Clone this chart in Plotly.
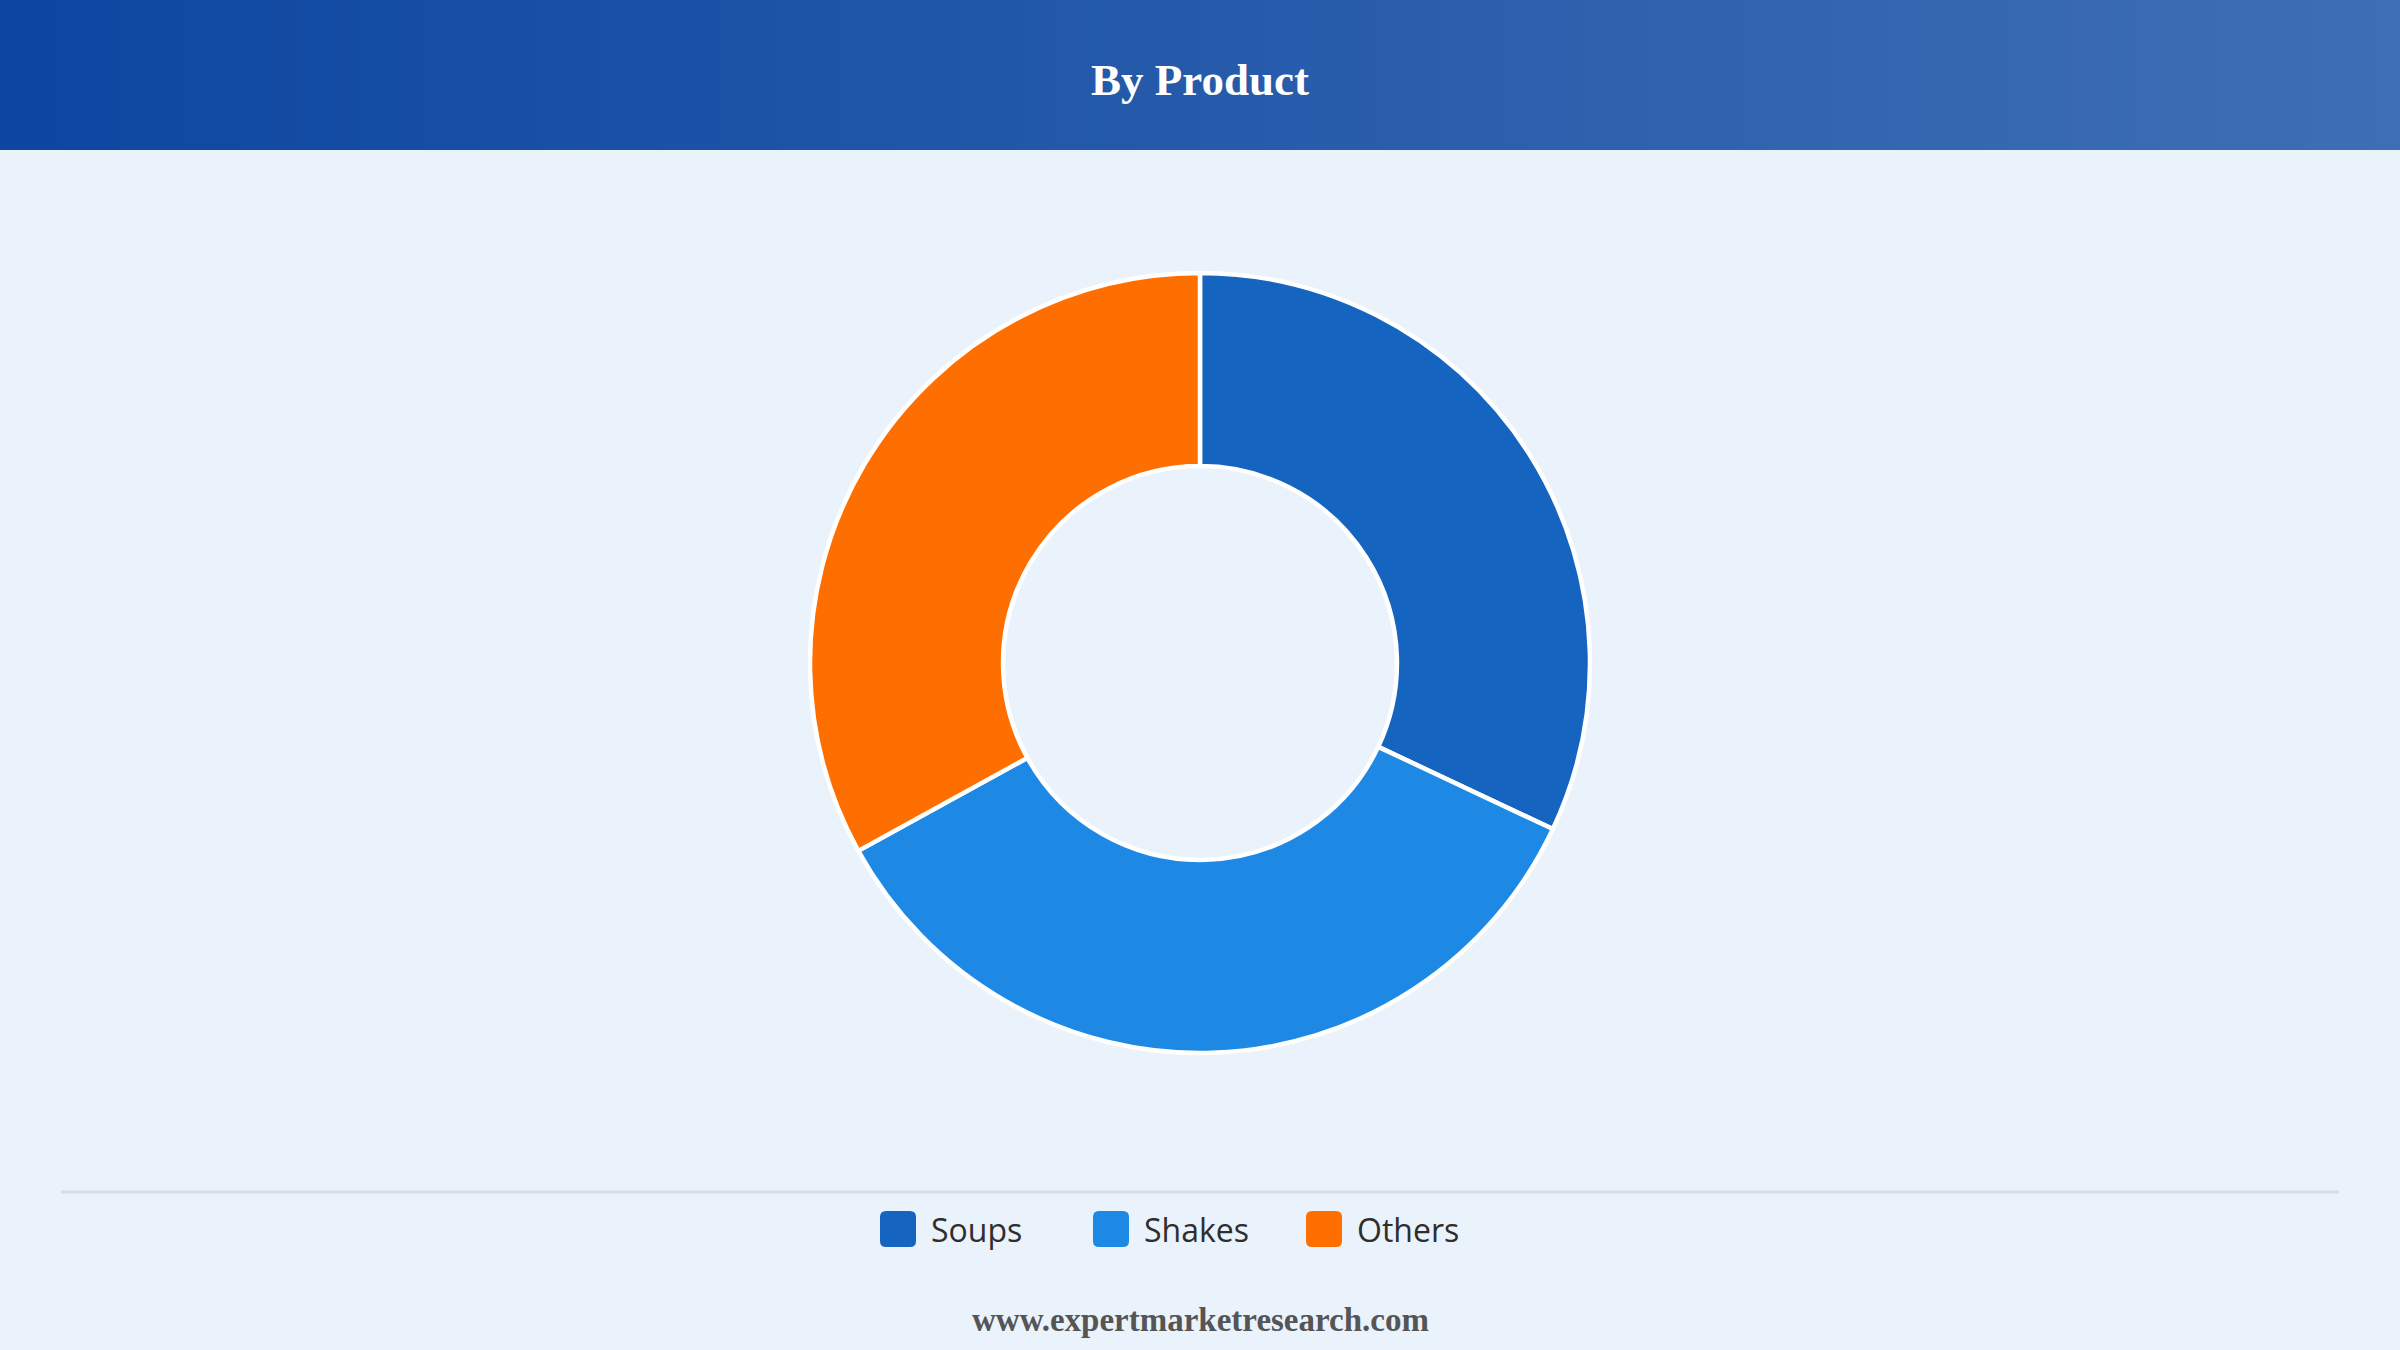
import plotly.graph_objects as go

# ===== データ =====
labels = ["Soups", "Shakes", "Others"]
shares = [32, 35, 33]
colors = ["#1565C0", "#1E88E5", "#FF6F00"]

title_text = "By Product"
source_text = "www.expertmarketresearch.com"

W, H = 2400, 1350
BG = "#EAF2FB"

fig = go.Figure()

fig.add_trace(go.Pie(
    labels=labels,
    values=shares,
    hole=0.505,
    sort=False,
    direction="clockwise",
    rotation=0,
    marker=dict(colors=colors, line=dict(color="white", width=4.5)),
    textinfo="none",
    hoverinfo="label+percent",
    showlegend=False,
    domain=dict(x=[0, 1], y=[(H - 1053) / H, (H - 273) / H]),
))

shapes = []

# ヘッダーのグラデーション（細い帯を並べる）
c0 = (13, 71, 161)
c1 = (62, 110, 181)
n = 80
for i in range(n):
    f = i / (n - 1)
    col = "rgb(%d,%d,%d)" % tuple(round(a + (b - a) * f) for a, b in zip(c0, c1))
    shapes.append(dict(
        type="rect", xref="paper", yref="paper",
        x0=i / n, x1=(i + 1) / n + 0.002,
        y0=1 - 150 / H, y1=1,
        fillcolor=col, line=dict(width=0), layer="below",
    ))

# 区切り線
shapes.append(dict(
    type="line", xref="paper", yref="paper",
    x0=61 / W, x1=2339 / W, y0=1 - 1192 / H, y1=1 - 1192 / H,
    line=dict(color="#D9DDE3", width=3),
))

annotations = [
    dict(text="<b>" + title_text + "</b>", x=0.5, y=1 - 80 / H,
         xref="paper", yref="paper", showarrow=False,
         xanchor="center", yanchor="middle",
         font=dict(family="Liberation Serif", size=45, color="white")),
    dict(text="<b>" + source_text + "</b>", x=0.5, y=1 - 1320 / H,
         xref="paper", yref="paper", showarrow=False,
         xanchor="center", yanchor="middle",
         font=dict(family="Liberation Serif", size=33, color="#555555")),
]

# 凡例（角丸の四角＋ラベル）
legend_x = [880, 1093, 1306]
ly = 1229
s = 36
r = 6
for lx, lab, col in zip(legend_x, labels, colors):
    x0, x1 = lx, lx + s
    y0, y1 = ly - s / 2, ly + s / 2
    path = (
        f"M{x0 + r},{y0} L{x1 - r},{y0} Q{x1},{y0} {x1},{y0 + r} "
        f"L{x1},{y1 - r} Q{x1},{y1} {x1 - r},{y1} L{x0 + r},{y1} "
        f"Q{x0},{y1} {x0},{y1 - r} L{x0},{y0 + r} Q{x0},{y0} {x0 + r},{y0} Z"
    )
    shapes.append(dict(type="path", xref="x", yref="y", path=path,
                       fillcolor=col, line=dict(width=0)))
    annotations.append(dict(
        text=lab, x=lx + s + 13, y=ly, xref="x", yref="y",
        xanchor="left", yanchor="middle", showarrow=False,
        font=dict(family="Open Sans", size=32, color="#2E2E2E"),
    ))

fig.update_layout(
    width=W, height=H,
    margin=dict(l=0, r=0, t=0, b=0),
    paper_bgcolor=BG,
    plot_bgcolor="rgba(0,0,0,0)",
    xaxis=dict(range=[0, W], visible=False, fixedrange=True),
    yaxis=dict(range=[H, 0], visible=False, fixedrange=True),
    shapes=shapes,
    annotations=annotations,
    showlegend=False,
)

fig.write_html(
    "out.html",
    config={"displayModeBar": False},
    post_script="document.body.style.margin='0';document.body.style.background='%s';" % BG,
)
